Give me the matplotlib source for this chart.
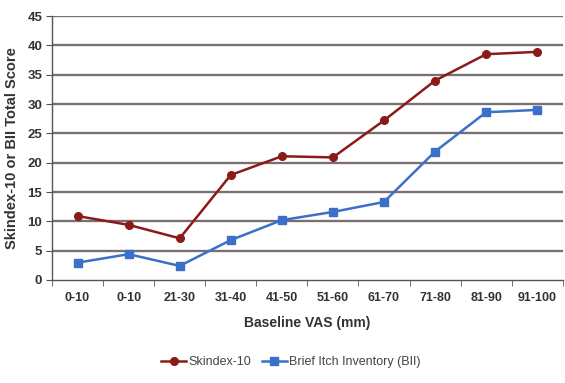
import matplotlib
matplotlib.use("Agg")
import matplotlib.pyplot as plt
import numpy as np

categories = ["0-10", "0-10", "21-30", "31-40", "41-50", "51-60", "61-70", "71-80", "81-90", "91-100"]
skindex = [10.9, 9.4, 7.1, 17.9, 21.1, 20.9, 27.2, 34.0, 38.5, 38.9]
bii = [2.95, 4.4, 2.4, 6.8, 10.2, 11.6, 13.3, 21.9, 28.6, 29.0]
yticks = [0, 5, 10, 15, 20, 25, 30, 35, 40, 45]

plt.rcParams['font.family'] = ['Liberation Sans', 'DejaVu Sans']

fig = plt.figure(figsize=(5.65, 3.83), dpi=100)
ax = fig.add_axes([0.092, 0.269, 0.904, 0.689])

x = np.arange(len(categories))
ax.set_xlim(-0.5, len(categories) - 0.5)
ax.set_ylim(0, 45)

for y in yticks[1:]:
    ax.axhline(y, color='#f9dcd4', lw=2.6, zorder=1)
    ax.axhline(y, color='#4f5f6c', lw=1.2, zorder=1.5)

ax.plot(x, skindex, color='#8b1a1a', lw=1.8, marker='o', ms=5.5, label='Skindex-10', zorder=3)
ax.plot(x, bii, color='#3a70c8', lw=1.8, marker='s', ms=5.5, label='Brief Itch Inventory (BII)', zorder=3)

ax.set_yticks(yticks)
ax.set_yticklabels([str(v) for v in yticks], fontsize=9.5, fontweight='bold', color='#333333')
ax.set_xticks(x)
ax.set_xticklabels(categories, fontsize=9, fontweight='bold', color='#333333')
ax.set_xticks(np.arange(-0.5, len(categories)), minor=True)
ax.tick_params(axis='x', which='major', length=0, pad=9)
ax.tick_params(axis='x', which='minor', length=4, color='#555555')
ax.tick_params(axis='y', length=4, color='#555555', pad=3)

for s in ['top', 'right']:
    ax.spines[s].set_visible(False)
for s in ['left', 'bottom']:
    ax.spines[s].set_color('#555555')
    ax.spines[s].set_linewidth(1.0)

ax.set_ylabel('Skindex-10 or BII Total Score', fontsize=10.5, fontweight='bold', color='#333333', labelpad=6)
ax.set_xlabel('Baseline VAS (mm)', fontsize=10, fontweight='bold', color='#333333', labelpad=8)

fig.legend(loc='center', bbox_to_anchor=(0.515, 0.055), ncol=2, frameon=False, fontsize=9,
           handlelength=2.0, columnspacing=0.8, handletextpad=0.2, labelcolor='#444444')

fig.savefig('out.png', dpi=100)
